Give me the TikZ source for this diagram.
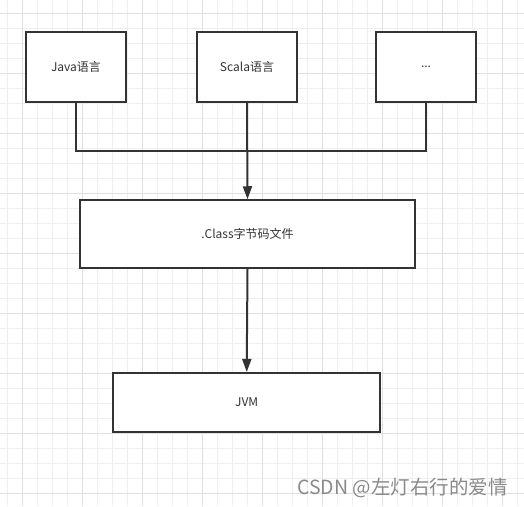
\documentclass[tikz,border=0pt]{standalone}
\usepackage{fontspec}
\setmainfont{Noto Sans CJK SC}
\usetikzlibrary{arrows.meta}
\definecolor{ink}{HTML}{333333}
\definecolor{gminor}{HTML}{EFEFEF}
\definecolor{gmajor}{HTML}{E0E0E0}
\definecolor{wm}{HTML}{8A8A8A}
\tikzset{
  box/.style={draw=ink, line width=2pt, fill=white, rectangle, inner sep=0pt,
    font=\fontsize{12}{14}\selectfont, text=ink},
  link/.style={draw=ink, line width=2pt},
  arr/.style={link, -{Triangle[length=13pt,width=9pt]}},
}
\begin{document}
\begin{tikzpicture}[x=1pt,y=-1pt]
\useasboundingbox (0,0) rectangle (524,506);
\fill[white] (0,0) rectangle (524,506);
% grid
\foreach \i in {0,...,34} {
  \pgfmathsetmacro{\xx}{7.3+15*\i}
  \draw[gminor, line width=1pt] (\xx,0) -- (\xx,506);
}
\foreach \i in {0,...,33} {
  \pgfmathsetmacro{\yy}{13.3+15*\i}
  \draw[gminor, line width=1pt] (0,\yy) -- (524,\yy);
}
\foreach \i in {0,...,8} {
  \pgfmathsetmacro{\xx}{22.3+60*\i}
  \draw[gmajor, line width=1pt] (\xx,0) -- (\xx,506);
}
\foreach \i in {0,...,8} {
  \pgfmathsetmacro{\yy}{13.3+60*\i}
  \draw[gmajor, line width=1pt] (0,\yy) -- (524,\yy);
}
% boxes
\node[box, minimum width=100pt, minimum height=70pt] (java) at (76,67) {Java语言};
\node[box, minimum width=100pt, minimum height=70pt] (scala) at (247,67) {Scala语言};
\node[box, minimum width=100pt, minimum height=70pt] (dots) at (426,67) {...};
\node[box, minimum width=335pt, minimum height=67.5pt] (class) at (247.5,234) {.Class字节码文件};
\node[box, minimum width=266.7pt, minimum height=58.7pt] (jvm) at (246.7,402.3) {JVM};
% connectors
\coordinate (join) at (247,150.7);
\draw[link] (java.south) |- (join) -| (dots.south);
\draw[arr] (scala.south) -- (class.north);
\draw[arr] (class.south) -- (jvm.north);
% watermark
\node[font=\fontsize{19.5}{22}\selectfont, text=wm, inner sep=0pt, anchor=east] (mark) at (508,488) {CSDN @左灯右行的爱情};
\end{tikzpicture}
\end{document}
